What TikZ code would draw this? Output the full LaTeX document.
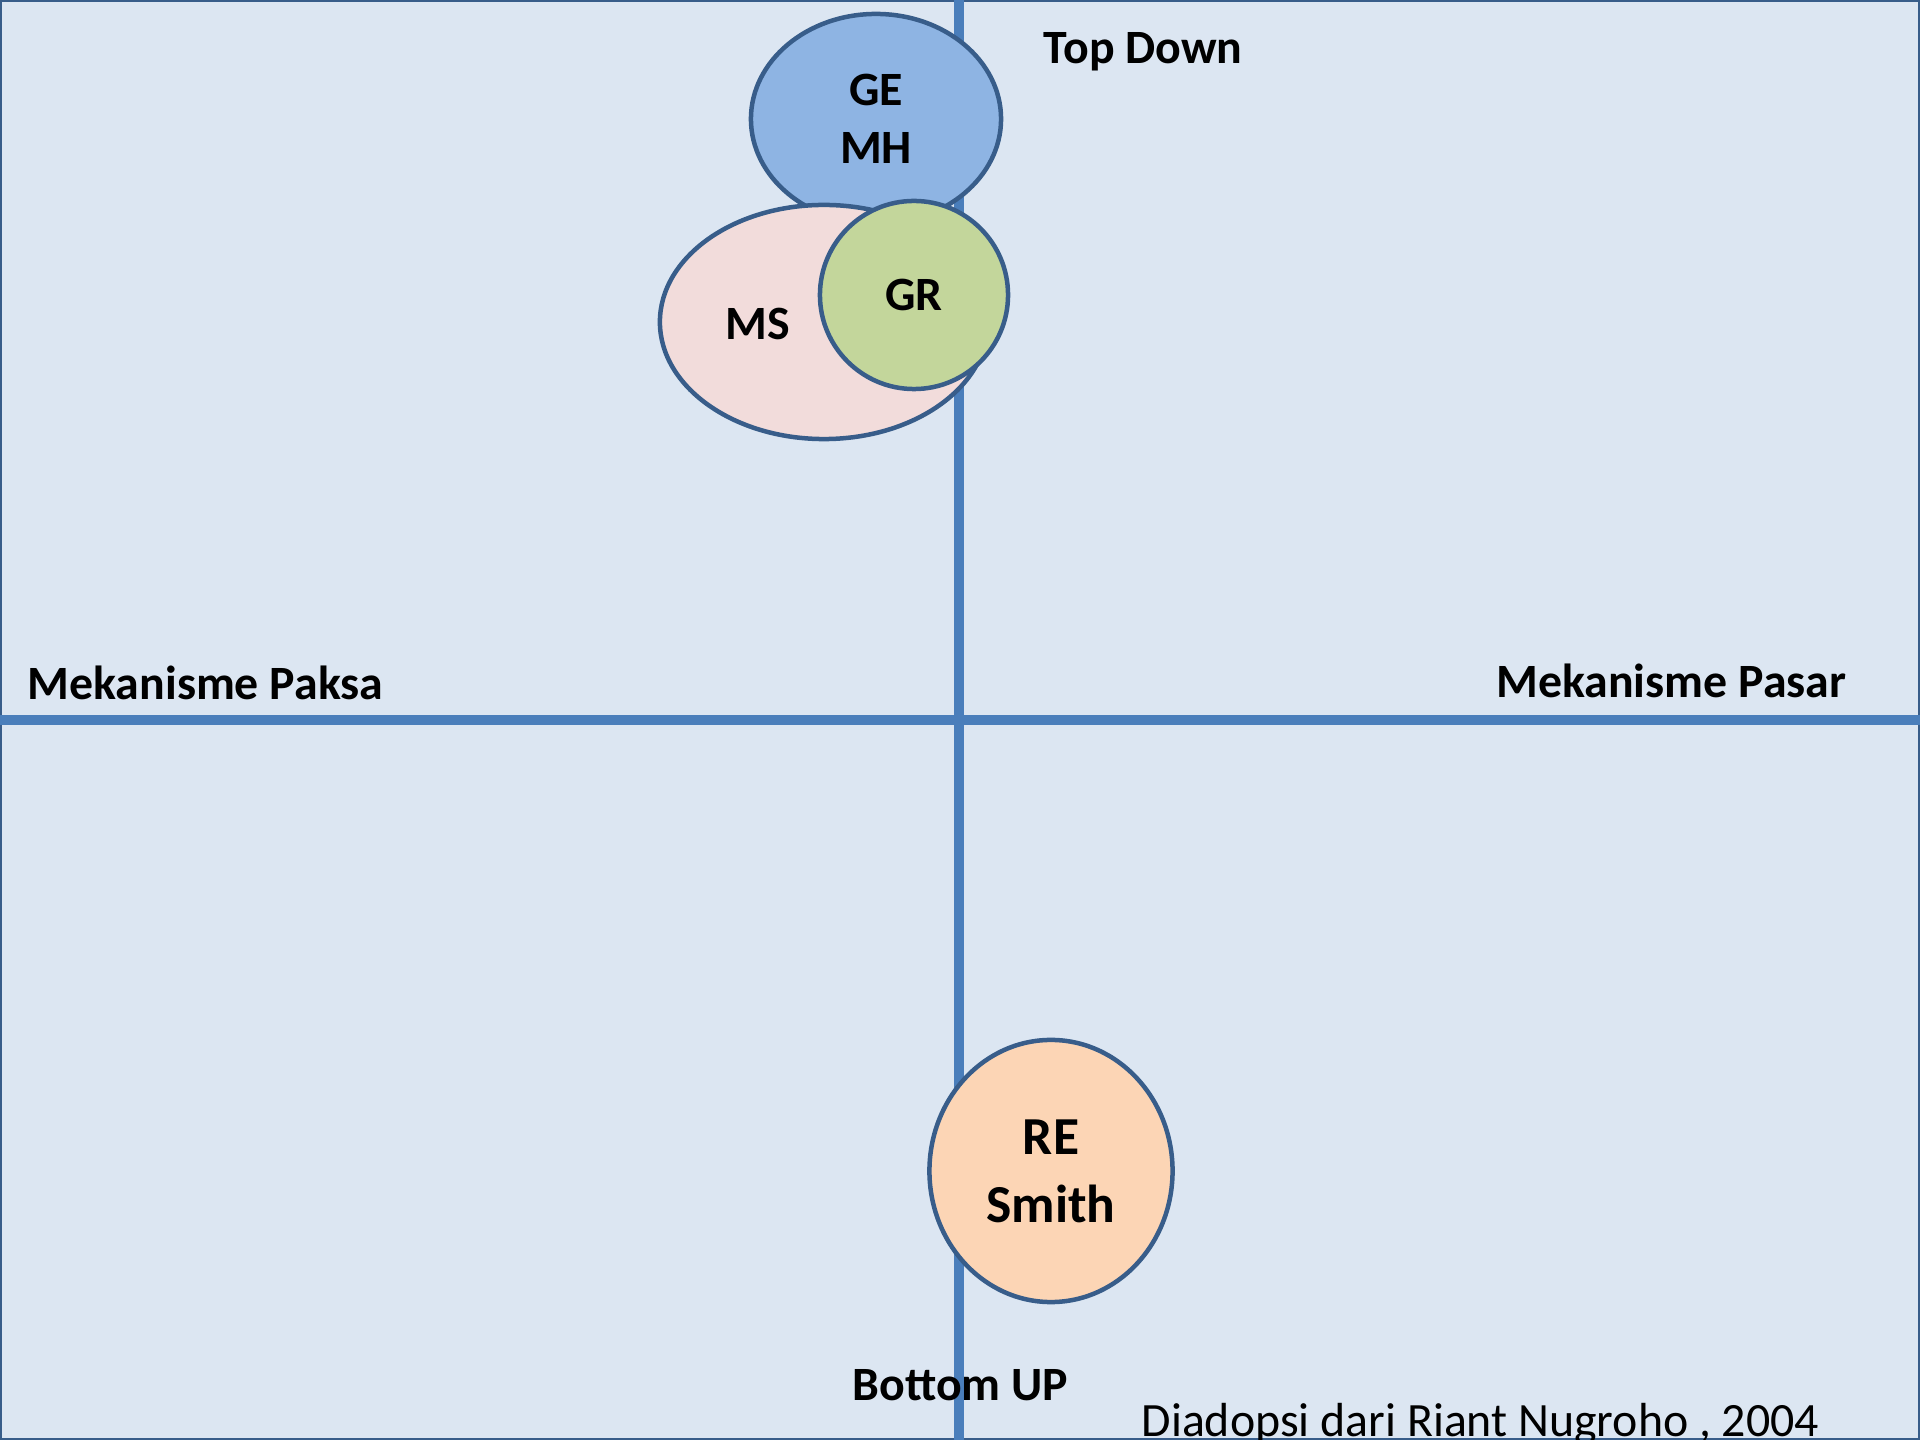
\documentclass[tikz,border=0pt]{standalone}
\usepackage{fontspec}
\setmainfont{Carlito}
\usetikzlibrary{shapes.geometric}
\definecolor{bgblue}{HTML}{DCE6F2}
\definecolor{axisblue}{HTML}{4A7EBB}
\definecolor{rimblue}{HTML}{385D8A}
\definecolor{geblue}{HTML}{8EB4E3}
\definecolor{mspink}{HTML}{F2DCDB}
\definecolor{grgreen}{HTML}{C3D69B}
\definecolor{reorange}{HTML}{FCD5B5}
\begin{document}
\begin{tikzpicture}[x=0.01cm,y=-0.01cm,
	axis/.style={line width=0.1cm,draw=axisblue},
	blob/.style={ellipse,draw=rimblue,line width=0.045cm,inner sep=0pt,align=center},
	lbl/.style={font=\bfseries\fontsize{13.6}{16.4}\selectfont,inner sep=0pt}]
	\useasboundingbox (0,0) rectangle (1920,1440);
	\fill[bgblue] (0,0) rectangle (1920,1440);
	\draw[rimblue,line width=0.02cm] (1,1) rectangle (1919,1439);
	\coordinate (top) at (959,0);
	\coordinate (bottom) at (959,1440);
	\coordinate (left) at (0,720);
	\coordinate (right) at (1920,720);
	\draw[axis] (top) -- (bottom);
	\draw[axis] (left) -- (right);
	\node[blob,fill=geblue,minimum width=2.5cm,minimum height=2.1cm,lbl] (ge) at (876,119) {GE\\MH};
	\node[blob,fill=mspink,minimum width=3.28cm,minimum height=2.34cm] (ms) at (824,322) {};
	\node[lbl] (mslabel) at (758,324) {MS};
	\node[blob,fill=grgreen,minimum width=1.88cm,minimum height=1.88cm,lbl] (gr) at (914,295) {GR};
	\node[blob,fill=reorange,minimum width=2.43cm,minimum height=2.62cm,
		font=\bfseries\fontsize{15.2}{19.4}\selectfont] (re) at (1051,1171) {RE\\Smith};
	\node[lbl,anchor=base west] (topdown) at (1043,64) {Top Down};
	\node[lbl,anchor=base west] (paksa) at (27,700) {Mekanisme Paksa};
	\node[lbl,anchor=base east] (pasar) at (1847,698) {Mekanisme Pasar};
	\node[lbl,anchor=base west] (bottomup) at (852,1400) {Bottom UP};
	\node[inner sep=0pt,anchor=base west,font=\fontsize{13.6}{16.4}\selectfont] (source) at (1141,1437) {Diadopsi dari Riant Nugroho , 2004};
\end{tikzpicture}
\end{document}
